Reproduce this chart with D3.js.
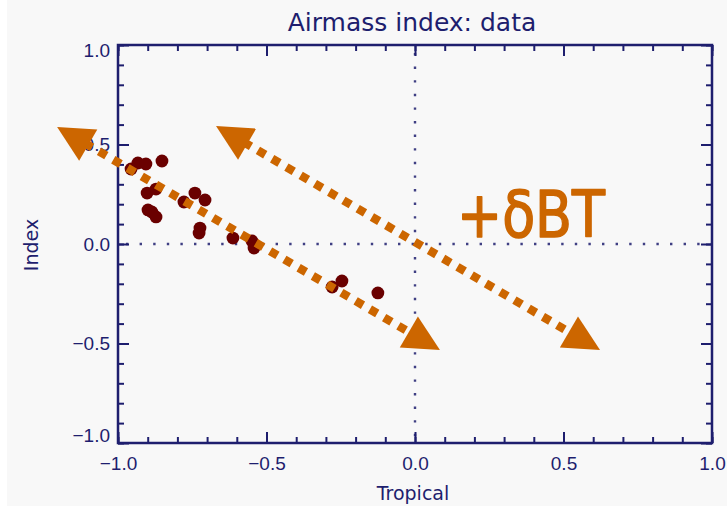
<!DOCTYPE html>
<html>
<head>
<meta charset="utf-8">
<script src="https://cdn.jsdelivr.net/npm/d3@7"></script>
<style>
  html, body { margin: 0; padding: 0; background: #ffffff; }
  svg { display: block; font-family: "DejaVu Sans", sans-serif; }
</style>
</head>
<body>
<svg id="chart" width="727" height="506"></svg>
<script>
// Airmass index samples: tropical component (x) against index (y)
const tropical = [-0.956, -0.933, -0.906, -0.852, -0.902, -0.872, -0.899, -0.872, -0.886, -0.778,
                  -0.741, -0.707, -0.724, -0.727, -0.613, -0.549, -0.542, -0.279, -0.246, -0.125];
const indexVals = [0.377, 0.407, 0.402, 0.417, 0.256, 0.276, 0.171, 0.136, 0.161, 0.211,
                   0.256, 0.221, 0.080, 0.055, 0.030, 0.015, -0.020, -0.216, -0.186, -0.246];

// Axis ticks and labels
const majorTicks = [-1.0, -0.5, 0.0, 0.5, 1.0];
const majorLabels = ["\u22121.0", "\u22120.5", "0.0", "0.5", "1.0"];
const minorTicks = d3.range(-10, 11).map(d => d / 10);

// Double-headed annotation arrows (data units): start / end
const arrowStartX = [-1.205, -0.670];
const arrowStartY = [0.588, 0.593];
const arrowEndX = [0.084, 0.623];
const arrowEndY = [-0.533, -0.533];

const navy = "#1e1e6e";
const orange = "#cc6600";
const pointColor = "#6a0000";

const svg = d3.select("#chart");
const W = 727, H = 506;
const m = { left: 118, right: 712, top: 45, bottom: 443 };

svg.append("rect").attr("x", 7).attr("y", 0).attr("width", W - 7).attr("height", H)
  .attr("fill", "#f8f8f8");

const x = d3.scaleLinear().domain([-1, 1]).range([m.left, m.right]);
const y = d3.scaleLinear().domain([-1, 1]).range([m.bottom, m.top]);

// Zero reference lines (dotted)
const zeroG = svg.append("g").attr("stroke", navy).attr("stroke-width", 2.4)
  .attr("stroke-dasharray", "2.4,11.2");
zeroG.append("line").attr("x1", x(0)).attr("x2", x(0)).attr("y1", y(1) + 8).attr("y2", y(-1))
  .attr("stroke-opacity", 0.85);
zeroG.append("line").attr("x1", x(-1) + 8).attr("x2", x(1)).attr("y1", y(0)).attr("y2", y(0))
  .attr("stroke-opacity", 0.85);

// Axes: minor ticks, then major ticks with labels
function styleAxis(g) {
  g.select(".domain").remove();
  g.selectAll(".tick line").attr("stroke", navy).attr("stroke-width", 2);
  g.selectAll(".tick text").attr("fill", navy).attr("font-size", 19);
}
const minorLen = -6, majorLen = -11;

svg.append("g").attr("transform", `translate(0,${m.bottom})`)
  .call(d3.axisBottom(x).tickValues(minorTicks).tickSize(minorLen).tickFormat(""))
  .call(styleAxis);
svg.append("g").attr("transform", `translate(0,${m.bottom})`)
  .call(d3.axisBottom(x).tickValues(majorTicks).tickSize(majorLen).tickPadding(14)
    .tickFormat((d, i) => majorLabels[i]))
  .call(styleAxis);

svg.append("g").attr("transform", `translate(0,${m.top})`)
  .call(d3.axisTop(x).tickValues(minorTicks).tickSize(minorLen).tickFormat(""))
  .call(styleAxis);
svg.append("g").attr("transform", `translate(0,${m.top})`)
  .call(d3.axisTop(x).tickValues(majorTicks).tickSize(majorLen).tickFormat(""))
  .call(styleAxis);

svg.append("g").attr("transform", `translate(${m.left},0)`)
  .call(d3.axisLeft(y).tickValues(minorTicks).tickSize(minorLen).tickFormat(""))
  .call(styleAxis);
const yAxisG = svg.append("g").attr("transform", `translate(${m.left},0)`)
  .call(d3.axisLeft(y).tickValues(majorTicks).tickSize(majorLen).tickPadding(8)
    .tickFormat((d, i) => majorLabels[i]))
  .call(styleAxis);
yAxisG.selectAll(".tick text")
  .attr("dy", d => d === 1 ? "0.62em" : d === -1 ? "-0.1em" : "0.32em");

svg.append("g").attr("transform", `translate(${m.right},0)`)
  .call(d3.axisRight(y).tickValues(minorTicks).tickSize(minorLen).tickFormat(""))
  .call(styleAxis);
svg.append("g").attr("transform", `translate(${m.right},0)`)
  .call(d3.axisRight(y).tickValues(majorTicks).tickSize(majorLen).tickFormat(""))
  .call(styleAxis);

// Plot frame
svg.append("rect")
  .attr("x", m.left).attr("y", m.top)
  .attr("width", m.right - m.left).attr("height", m.bottom - m.top)
  .attr("fill", "none").attr("stroke", navy).attr("stroke-width", 2.5);

// Titles
svg.append("text").attr("x", 412).attr("y", 31).attr("text-anchor", "middle")
  .attr("fill", navy).attr("font-size", 25).text("Airmass index: data");
svg.append("text").attr("x", 413).attr("y", 500).attr("text-anchor", "middle")
  .attr("fill", navy).attr("font-size", 19).text("Tropical");
svg.append("text").attr("transform", "translate(38,245) rotate(-90)").attr("text-anchor", "middle")
  .attr("fill", navy).attr("font-size", 19).text("Index");

// Data points
svg.append("g").selectAll("circle")
  .data(tropical.map((t, i) => [t, indexVals[i]]))
  .join("circle")
  .attr("cx", d => x(d[0])).attr("cy", d => y(d[1]))
  .attr("r", 6.4).attr("fill", pointColor);

// Annotation arrows
const headLen = 36, headHalf = 18;
const arrowG = svg.append("g");
arrowStartX.forEach((sx, i) => {
  const p0 = [x(sx), y(arrowStartY[i])];
  const p1 = [x(arrowEndX[i]), y(arrowEndY[i])];
  const dx = p1[0] - p0[0], dy = p1[1] - p0[1];
  const L = Math.hypot(dx, dy);
  const ux = dx / L, uy = dy / L, nx = -uy, ny = ux;
  const b0 = [p0[0] + ux * headLen, p0[1] + uy * headLen];
  const b1 = [p1[0] - ux * headLen, p1[1] - uy * headLen];
  arrowG.append("line")
    .attr("x1", b0[0] - ux * 4).attr("y1", b0[1] - uy * 4)
    .attr("x2", b1[0] + ux * 4).attr("y2", b1[1] + uy * 4)
    .attr("stroke", orange).attr("stroke-width", 8.5)
    .attr("stroke-dasharray", "8.5,8");
  [[p0, b0], [p1, b1]].forEach(([tip, base]) => {
    const pts = [tip,
      [base[0] + nx * headHalf, base[1] + ny * headHalf],
      [base[0] - nx * headHalf, base[1] - ny * headHalf]];
    arrowG.append("path").attr("d", d3.line()(pts) + "Z").attr("fill", orange);
  });
});

// Annotation label
svg.append("text").attr("x", 457).attr("y", 237)
  .attr("fill", orange).attr("stroke", orange).attr("stroke-width", 1.6)
  .attr("stroke-linejoin", "round")
  .attr("font-size", 64)
  .attr("textLength", 148).attr("lengthAdjust", "spacingAndGlyphs")
  .text("+\u03b4BT");
</script>
</body>
</html>
